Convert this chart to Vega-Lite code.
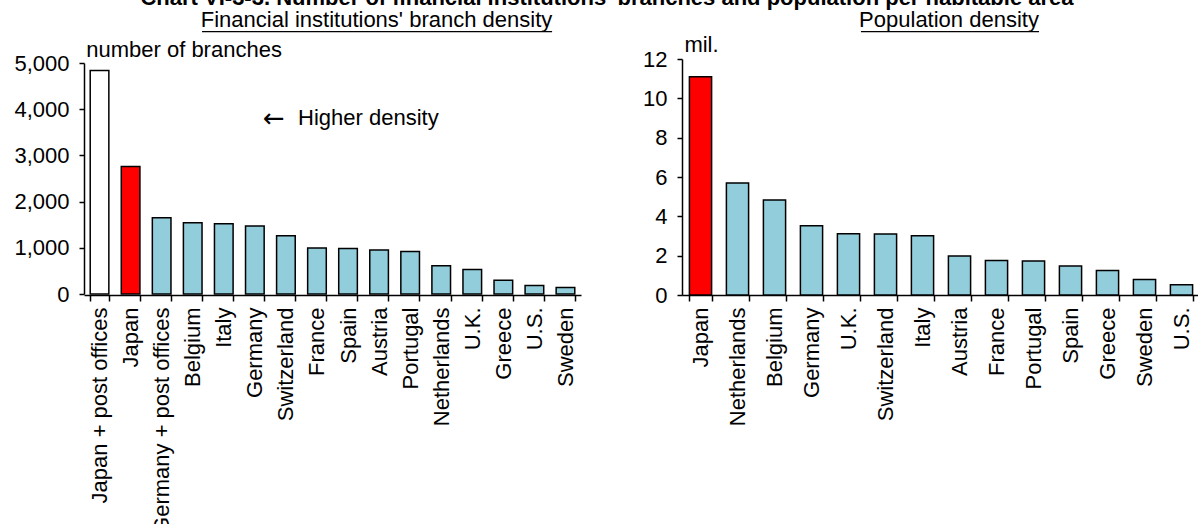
{
  "$schema": "https://vega.github.io/schema/vega-lite/v6.json",
  "background": "white",
  "padding": {"left": 13, "top": -13, "right": 0, "bottom": 0},
  "title": {
    "text": "Chart VI-3-3. Number of financial institutions' branches and population per habitable area",
    "font": "Liberation Sans", "fontSize": 22, "fontWeight": "bold", "color": "black",
    "anchor": "middle", "offset": -1
  },
  "config": {
    "font": "Liberation Sans",
    "view": {"stroke": null},
    "title": {"font": "Liberation Sans", "fontSize": 22, "fontWeight": "normal", "color": "black"},
    "text": {"font": "Liberation Sans", "fontSize": 22, "color": "black"},
    "axis": {
      "title": null, "grid": false,
      "domainColor": "black", "domainWidth": 1.5,
      "tickColor": "black", "tickWidth": 1.5,
      "labelColor": "black", "labelFont": "Liberation Sans", "labelFontSize": 22, "labelLimit": 0
    },
    "axisY": {"tickSize": 5, "labelPadding": 10},
    "axisX": {"tickSize": 6, "labelAngle": -90, "labelPadding": 6, "tickBand": "extent"}
  },
  "bounds": "flush",
  "spacing": 101,
  "hconcat": [
    {
      "width": 497,
      "height": 236,
      "title": {"text": "Financial institutions' branch density", "frame": "group", "offset": -1, "dx": 44},
      "layer": [
        {
          "data": {"values": [
            {"country": "Japan + post offices", "value": 4840, "kind": "post"},
            {"country": "Japan", "value": 2760, "kind": "japan"},
            {"country": "Germany + post offices", "value": 1650, "kind": "other"},
            {"country": "Belgium", "value": 1540, "kind": "other"},
            {"country": "Italy", "value": 1520, "kind": "other"},
            {"country": "Germany", "value": 1470, "kind": "other"},
            {"country": "Switzerland", "value": 1260, "kind": "other"},
            {"country": "France", "value": 995, "kind": "other"},
            {"country": "Spain", "value": 985, "kind": "other"},
            {"country": "Austria", "value": 950, "kind": "other"},
            {"country": "Portugal", "value": 920, "kind": "other"},
            {"country": "Netherlands", "value": 610, "kind": "other"},
            {"country": "U.K.", "value": 530, "kind": "other"},
            {"country": "Greece", "value": 300, "kind": "other"},
            {"country": "U.S.", "value": 185, "kind": "other"},
            {"country": "Sweden", "value": 140, "kind": "other"}
          ]},
          "mark": {"type": "bar", "stroke": "black", "strokeWidth": 1.5},
          "encoding": {
            "x": {"field": "country", "type": "nominal", "sort": null,
                  "scale": {"domain": ["Japan + post offices", "Japan", "Germany + post offices", "Belgium", "Italy", "Germany", "Switzerland", "France", "Spain", "Austria", "Portugal", "Netherlands", "U.K.", "Greece", "U.S.", "Sweden"],
                            "paddingInner": 0.4, "paddingOuter": 0.2}},
            "y": {"field": "value", "type": "quantitative",
                  "scale": {"domain": [0, 5000], "range": [235, 4], "nice": false},
                  "axis": {"values": [0, 1000, 2000, 3000, 4000, 5000], "format": ",d"}},
            "color": {"field": "kind", "type": "nominal",
                      "scale": {"domain": ["post", "japan", "other"], "range": ["#ffffff", "#ff0000", "#92cddc"]},
                      "legend": null}
          }
        },
        {
          "data": {"values": [{"label": "number of branches", "country": "Japan + post offices", "value": 5000}]},
          "mark": {"type": "text", "align": "left", "baseline": "bottom", "dx": -4, "dy": -1},
          "encoding": {
            "x": {"field": "country", "type": "nominal", "bandPosition": 0},
            "y": {"field": "value", "type": "quantitative",
                  "axis": {"values": [0, 1000, 2000, 3000, 4000, 5000], "format": ",d"}},
            "text": {"field": "label"}
          }
        },
        {
          "data": {"values": [{"label": "←", "country": "Germany", "value": 3810}]},
          "mark": {"type": "text", "align": "left", "baseline": "middle", "font": "DejaVu Sans", "fontSize": 26, "dy": 1},
          "encoding": {
            "x": {"field": "country", "type": "nominal", "bandPosition": 0.94},
            "y": {"field": "value", "type": "quantitative",
                  "axis": {"values": [0, 1000, 2000, 3000, 4000, 5000], "format": ",d"}},
            "text": {"field": "label"}
          }
        },
        {
          "data": {"values": [{"label": "Higher density", "country": "Germany", "value": 3810}]},
          "mark": {"type": "text", "align": "left", "baseline": "middle", "dx": 35},
          "encoding": {
            "x": {"field": "country", "type": "nominal", "bandPosition": 0.94},
            "y": {"field": "value", "type": "quantitative",
                  "axis": {"values": [0, 1000, 2000, 3000, 4000, 5000], "format": ",d"}},
            "text": {"field": "label"}
          }
        },
        {
          "data": {"values": [{"part": "underline"}]},
          "mark": {"type": "rule", "color": "black", "strokeWidth": 1.3, "clip": false},
          "encoding": {
            "x": {"datum": "Belgium", "bandPosition": 1.0},
            "x2": {"datum": "U.S.", "bandPosition": 1.45},
            "y": {"datum": 5677,
                  "axis": {"values": [0, 1000, 2000, 3000, 4000, 5000], "format": ",d"}}
          }
        }
      ]
    },
    {
      "width": 518,
      "height": 236,
      "title": {"text": "Population density", "frame": "group", "offset": -1, "dx": 8},
      "layer": [
        {
          "data": {"values": [
            {"country": "Japan", "value": 11.1, "kind": "japan"},
            {"country": "Netherlands", "value": 5.69, "kind": "other"},
            {"country": "Belgium", "value": 4.83, "kind": "other"},
            {"country": "Germany", "value": 3.52, "kind": "other"},
            {"country": "U.K.", "value": 3.12, "kind": "other"},
            {"country": "Switzerland", "value": 3.1, "kind": "other"},
            {"country": "Italy", "value": 3.01, "kind": "other"},
            {"country": "Austria", "value": 1.98, "kind": "other"},
            {"country": "France", "value": 1.76, "kind": "other"},
            {"country": "Portugal", "value": 1.73, "kind": "other"},
            {"country": "Spain", "value": 1.47, "kind": "other"},
            {"country": "Greece", "value": 1.24, "kind": "other"},
            {"country": "Sweden", "value": 0.79, "kind": "other"},
            {"country": "U.S.", "value": 0.52, "kind": "other"}
          ]},
          "mark": {"type": "bar", "stroke": "black", "strokeWidth": 1.5},
          "encoding": {
            "x": {"field": "country", "type": "nominal", "sort": null,
                  "scale": {"domain": ["Japan", "Netherlands", "Belgium", "Germany", "U.K.", "Switzerland", "Italy", "Austria", "France", "Portugal", "Spain", "Greece", "Sweden", "U.S."],
                            "paddingInner": 0.4, "paddingOuter": 0.2}},
            "y": {"field": "value", "type": "quantitative",
                  "scale": {"domain": [0, 12], "nice": false},
                  "axis": {"values": [0, 2, 4, 6, 8, 10, 12], "format": "d"}},
            "color": {"field": "kind", "type": "nominal",
                      "scale": {"domain": ["japan", "other"], "range": ["#ff0000", "#92cddc"]},
                      "legend": null}
          }
        },
        {
          "data": {"values": [{"label": "mil.", "country": "Japan", "value": 12}]},
          "mark": {"type": "text", "align": "left", "baseline": "bottom", "dx": -5, "dy": -2},
          "encoding": {
            "x": {"field": "country", "type": "nominal", "bandPosition": 0},
            "y": {"field": "value", "type": "quantitative",
                  "axis": {"values": [0, 2, 4, 6, 8, 10, 12], "format": "d"}},
            "text": {"field": "label"}
          }
        },
        {
          "data": {"values": [{"part": "underline"}]},
          "mark": {"type": "rule", "color": "black", "strokeWidth": 1.3, "clip": false},
          "encoding": {
            "x": {"datum": "U.K.", "bandPosition": 1.06},
            "x2": {"datum": "Portugal", "bandPosition": 0.75},
            "y": {"datum": 13.39,
                  "axis": {"values": [0, 2, 4, 6, 8, 10, 12], "format": "d"}}
          }
        }
      ]
    }
  ]
}
